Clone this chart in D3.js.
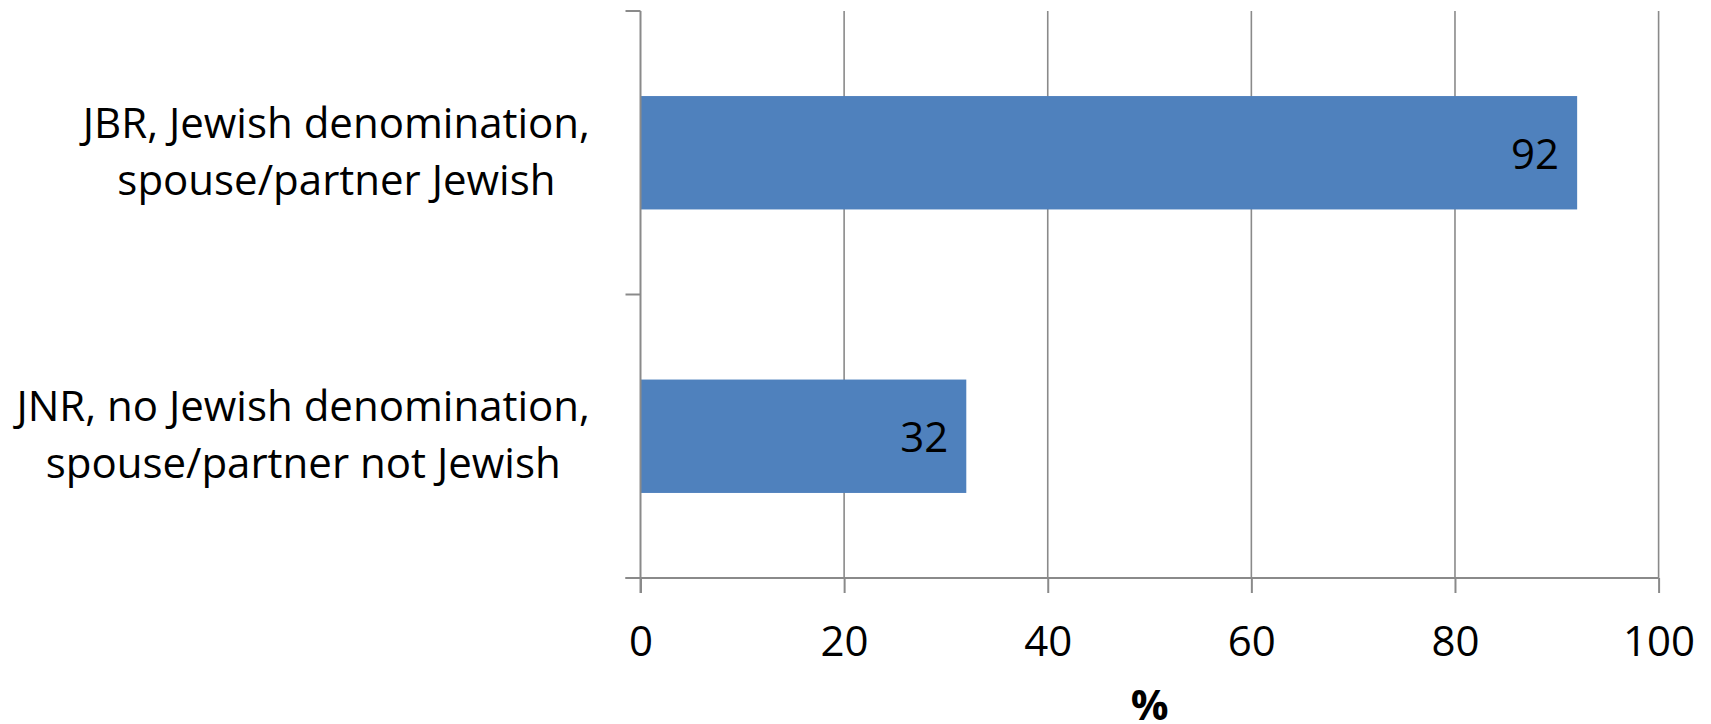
<!DOCTYPE html>
<html>
<head>
<meta charset="utf-8">
<script src="https://cdn.jsdelivr.net/npm/d3@7"></script>
<style>
  html, body { margin: 0; padding: 0; background: #fff; }
  svg { display: block; }
  text { font-family: "Open Sans", "Liberation Sans", sans-serif; }
</style>
</head>
<body>
<svg id="chart" width="1711" height="724"></svg>
<script>
// ---- data ----
const categories = ["JBR", "JNR"];
const categoryLines = [
  ["JBR, Jewish denomination,", "spouse/partner Jewish"],
  ["JNR, no Jewish denomination,", "spouse/partner not Jewish"]
];
const values = [92, 32];
const xTicks = [0, 20, 40, 60, 80, 100];
const xTitle = "%";

// ---- layout ----
const W = 1711, H = 724;
const plot = { left: 640.5, right: 1658.6, top: 11, bottom: 578 };
const fontSize = 42;
const gridColor = "#8a8a8a";
const barColor = "#4f81bd";

const svg = d3.select("#chart");

const x = d3.scaleLinear().domain([0, 100]).range([plot.left, plot.right]);
const y = d3.scaleBand().domain(categories).range([plot.top, plot.bottom]).padding(0);

// gridlines
svg.append("g")
  .selectAll("line")
  .data(xTicks.filter(d => d !== 0))
  .join("line")
  .attr("x1", d => x(d)).attr("x2", d => x(d))
  .attr("y1", plot.top).attr("y2", plot.bottom)
  .attr("stroke", gridColor).attr("stroke-width", 1.6);

// bars
const barFrac = 0.4;
svg.append("g")
  .selectAll("rect")
  .data(categories)
  .join("rect")
  .attr("x", x(0))
  .attr("y", c => y(c) + y.bandwidth() * (1 - barFrac) / 2)
  .attr("width", (c, i) => x(values[i]) - x(0))
  .attr("height", y.bandwidth() * barFrac)
  .attr("fill", barColor);

// value labels
svg.append("g")
  .selectAll("text")
  .data(categories)
  .join("text")
  .attr("x", (c, i) => x(values[i]) - 18)
  .attr("y", c => y(c) + y.bandwidth() / 2 + 16)
  .attr("text-anchor", "end")
  .attr("font-size", fontSize)
  .attr("fill", "#000")
  .text((c, i) => values[i]);

// x axis
const xAxis = d3.axisBottom(x)
  .tickValues(xTicks)
  .tickSize(15)
  .tickPadding(32)
  .tickFormat(d3.format("d"));
const gx = svg.append("g")
  .attr("transform", `translate(0,${plot.bottom})`)
  .call(xAxis);
gx.select(".domain").attr("stroke", gridColor).attr("stroke-width", 2)
  .attr("d", `M${x(0) - 15},0H${x(100)}`);
gx.selectAll(".tick line").attr("stroke", gridColor).attr("stroke-width", 2);
gx.selectAll(".tick text")
  .attr("font-size", fontSize)
  .attr("font-family", '"Open Sans", "Liberation Sans", sans-serif')
  .attr("fill", "#000")
  .attr("dy", null)
  .attr("y", 78);

// y axis (ticks at category boundaries)
const bounds = [plot.top].concat(categories.map(c => y(c) + y.bandwidth()));
const gy = svg.append("g");
gy.append("line")
  .attr("x1", x(0)).attr("x2", x(0))
  .attr("y1", plot.top).attr("y2", plot.bottom + 15)
  .attr("stroke", gridColor).attr("stroke-width", 2);
gy.selectAll("line.tk")
  .data(bounds)
  .join("line")
  .attr("class", "tk")
  .attr("x1", x(0) - 15).attr("x2", x(0))
  .attr("y1", d => d).attr("y2", d => d)
  .attr("stroke", gridColor).attr("stroke-width", 2);

// category labels: block right-aligned at 590, lines centered within block
const labelRight = 590;
categories.forEach((c, i) => {
  const cy = y(c) + y.bandwidth() / 2;
  const g = svg.append("g");
  const texts = g.selectAll("text")
    .data(categoryLines[i])
    .join("text")
    .attr("font-size", fontSize)
    .attr("fill", "#000")
    .attr("text-anchor", "middle")
    .attr("y", (d, j) => cy - 15 + j * 57)
    .text(d => d);
  let maxW = 0;
  texts.each(function () { maxW = Math.max(maxW, this.getComputedTextLength()); });
  texts.attr("x", labelRight - maxW / 2);
});

// x axis title
svg.append("text")
  .attr("x", (plot.left + plot.right) / 2)
  .attr("y", 720)
  .attr("text-anchor", "middle")
  .attr("font-size", fontSize)
  .attr("font-weight", "bold")
  .attr("fill", "#000")
  .text(xTitle);
</script>
</body>
</html>
